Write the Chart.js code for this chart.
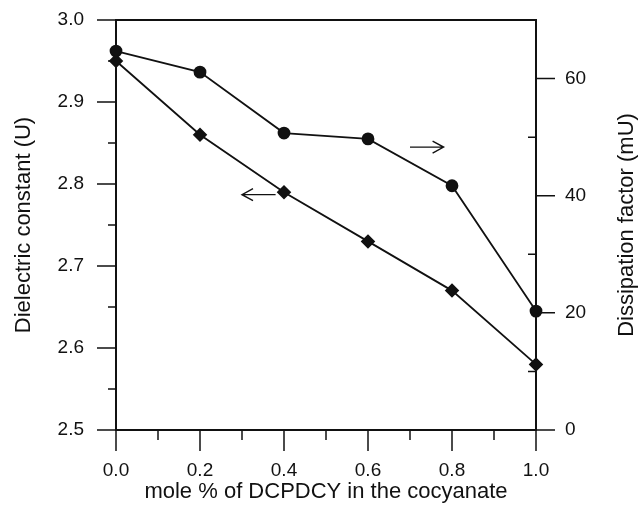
<!DOCTYPE html>
<html>
<head>
<meta charset="utf-8">
<script src="https://cdn.jsdelivr.net/npm/chart.js@4.4.1/dist/chart.umd.min.js"></script>
<style>
  html, body { margin: 0; padding: 0; background: #fff; }
</style>
</head>
<body>
<canvas id="chart" width="641" height="505"></canvas>
<script>
// values
const molePct = [0.0, 0.2, 0.4, 0.6, 0.8, 1.0];
const dielectric = [2.95, 2.86, 2.79, 2.73, 2.67, 2.58];
const dissipation = [64.7, 61.1, 50.7, 49.7, 41.7, 20.3];

// tick marks
const xMajor = [0.0, 0.2, 0.4, 0.6, 0.8, 1.0];
const xMinor = [0.1, 0.3, 0.5, 0.7, 0.9];
const leftMajor = [2.5, 2.6, 2.7, 2.8, 2.9, 3.0];
const leftMinor = [2.55, 2.65, 2.75, 2.85, 2.95];
const rightMajor = [0, 20, 40, 60];
const rightMinor = [10, 30, 50];

const ink = "#111";
const tickFont = { family: "'Liberation Sans', Arial, sans-serif", size: 19 };
const titleFont = "22px 'Liberation Sans', Arial, sans-serif";

function toPoints(xs, ys) {
    return xs.map((x, i) => ({ x: x, y: ys[i] }));
}

// frame, tick marks, arrows and axis titles
const decorations = {
    id: "decorations",
    afterDraw(chart) {
        const ctx = chart.ctx;
        const a = chart.chartArea;
        const x = chart.scales.x, yl = chart.scales.y, yr = chart.scales.y2;
        ctx.save();
        ctx.strokeStyle = ink;
        ctx.lineWidth = 2;
        ctx.strokeRect(a.left, a.top, a.right - a.left, a.bottom - a.top);

        ctx.lineWidth = 1.5;
        ctx.beginPath();
        xMajor.forEach(v => { let p = x.getPixelForValue(v); ctx.moveTo(p, a.bottom); ctx.lineTo(p, a.bottom + 21); });
        xMinor.forEach(v => { let p = x.getPixelForValue(v); ctx.moveTo(p, a.bottom); ctx.lineTo(p, a.bottom + 10); });
        leftMajor.forEach(v => { let p = yl.getPixelForValue(v); ctx.moveTo(a.left - 19, p); ctx.lineTo(a.left, p); });
        leftMinor.forEach(v => { let p = yl.getPixelForValue(v); ctx.moveTo(a.left - 8, p); ctx.lineTo(a.left, p); });
        rightMajor.forEach(v => { let p = yr.getPixelForValue(v); ctx.moveTo(a.right, p); ctx.lineTo(a.right + 19, p); });
        rightMinor.forEach(v => { let p = yr.getPixelForValue(v); ctx.moveTo(a.right - 8, p); ctx.lineTo(a.right, p); });
        ctx.stroke();

        // arrows telling which axis each curve belongs to
        function arrow(x0, x1, yv) {
            let p0 = x.getPixelForValue(x0), p1 = x.getPixelForValue(x1), py = yl.getPixelForValue(yv);
            let d = p1 > p0 ? -1 : 1;
            ctx.beginPath();
            ctx.moveTo(p0, py); ctx.lineTo(p1, py);
            ctx.moveTo(p1 + d * 11, py - 6); ctx.lineTo(p1, py); ctx.lineTo(p1 + d * 11, py + 6);
            ctx.stroke();
        }
        ctx.lineWidth = 1.4;
        arrow(0.70, 0.78, 2.845);
        arrow(0.38, 0.30, 2.787);

        ctx.fillStyle = ink;
        ctx.font = titleFont;
        ctx.textAlign = "center";
        ctx.textBaseline = "middle";
        ctx.fillText("mole % of DCPDCY in the cocyanate", (a.left + a.right) / 2, 492);
        ctx.save();
        ctx.translate(24, (a.top + a.bottom) / 2);
        ctx.rotate(-Math.PI / 2);
        ctx.fillText("Dielectric constant (U)", 0, 0);
        ctx.restore();
        ctx.save();
        ctx.translate(627, (a.top + a.bottom) / 2);
        ctx.rotate(-Math.PI / 2);
        ctx.fillText("Dissipation factor (mU)", 0, 0);
        ctx.restore();
        ctx.restore();
    }
};

function fixBox(w, h) {
    return s => {
        if (w) s.width = w;
        if (h) s.height = h;
        s.paddingTop = 0; s.paddingBottom = 0; s.paddingLeft = 0; s.paddingRight = 0;
    };
}

new Chart(document.getElementById("chart"), {
    type: "line",
    data: {
        datasets: [
            {
                label: "Dielectric constant",
                data: toPoints(molePct, dielectric),
                yAxisID: "y",
                borderColor: ink,
                backgroundColor: ink,
                borderWidth: 1.8,
                pointStyle: "rectRot",
                pointRadius: 6,
                clip: false
            },
            {
                label: "Dissipation factor",
                data: toPoints(molePct, dissipation),
                yAxisID: "y2",
                borderColor: ink,
                backgroundColor: ink,
                borderWidth: 1.8,
                pointStyle: "circle",
                pointRadius: 5.5,
                clip: false
            }
        ]
    },
    options: {
        responsive: false,
        animation: false,
        layout: { padding: { top: 20, left: 0, right: 0, bottom: 0 } },
        plugins: { legend: { display: false }, tooltip: { enabled: false } },
        scales: {
            x: {
                type: "linear",
                min: 0,
                max: 1,
                grid: { display: false, drawTicks: false },
                border: { display: false },
                ticks: { stepSize: 0.2, padding: 29, color: ink, font: tickFont, maxRotation: 0,
                    callback: v => v.toFixed(1) },
                afterFit: fixBox(0, 75)
            },
            y: {
                position: "left",
                min: 2.5,
                max: 3.0,
                grid: { display: false, drawTicks: false },
                border: { display: false },
                ticks: { stepSize: 0.1, padding: 32, color: ink, font: tickFont,
                    callback: v => v.toFixed(1) },
                afterFit: fixBox(116, 0)
            },
            y2: {
                position: "right",
                min: 0,
                max: 70,
                grid: { display: false, drawTicks: false },
                border: { display: false },
                ticks: { stepSize: 20, padding: 29, color: ink, font: tickFont },
                afterBuildTicks: s => { s.ticks = s.ticks.filter(t => t.value % 20 === 0); },
                afterFit: fixBox(105, 0)
            }
        }
    },
    plugins: [decorations]
});
</script>
</body>
</html>
